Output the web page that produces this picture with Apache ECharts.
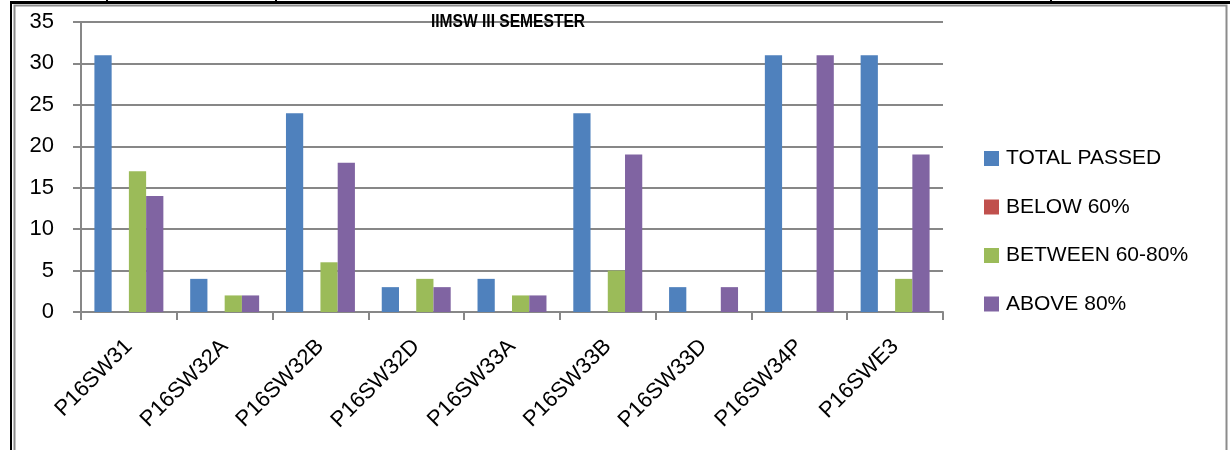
<!DOCTYPE html>
<html>
<head>
<meta charset="utf-8">
<script src="https://cdn.jsdelivr.net/npm/echarts@6/dist/echarts.min.js"></script>
<style>
html,body{margin:0;padding:0;background:#fff;}
#chart{width:1232px;height:450px;}
</style>
</head>
<body>
<div id="chart"></div>
<script>
const categories = ['P16SW31','P16SW32A','P16SW32B','P16SW32D','P16SW33A','P16SW33B','P16SW33D','P16SW34P','P16SWE3'];
const totalPassed = [31, 4, 24, 3, 4, 24, 3, 31, 31];
const below60 = [0, 0, 0, 0, 0, 0, 0, 0, 0];
const between6080 = [17, 2, 6, 4, 2, 5, 0, 0, 4];
const above80 = [14, 2, 18, 3, 2, 19, 3, 31, 19];
const seriesNames = ['TOTAL PASSED', 'BELOW 60%', 'BETWEEN 60-80%', 'ABOVE 80%'];
const yTicks = [0, 5, 10, 15, 20, 25, 30, 35];
const chartTitle = 'IIMSW III SEMESTER';

const colors = ['#4F81BD', '#C0504D', '#9BBB59', '#8064A2'];
const font = '"Liberation Sans", Arial, sans-serif';
const chart = echarts.init(document.getElementById('chart'));
const dataSets = [totalPassed, below60, between6080, above80];

chart.setOption({
  animation: false,
  color: colors,
  legend: {
    orient: 'vertical',
    left: 984, top: 148, padding: 0,
    itemWidth: 15, itemHeight: 15, itemGap: 27.5,
    icon: 'rect',
    textStyle: { fontFamily: font, fontSize: 21, color: '#000', padding: [0, 0, 0, 2] },
    data: seriesNames
  },
  grid: { left: 81, right: 289, top: 22, bottom: 138, containLabel: false },
  xAxis: {
    type: 'category',
    data: categories,
    axisLine: { lineStyle: { color: '#878787', width: 2 } },
    axisTick: { show: true, length: 8, lineStyle: { color: '#878787', width: 2 } },
    axisLabel: { rotate: 45, margin: 31, fontFamily: font, fontSize: 22, color: '#000' }
  },
  yAxis: {
    type: 'value',
    min: 0, max: 35, interval: 5,
    axisLine: { show: true, lineStyle: { color: '#878787', width: 2 } },
    axisTick: { show: true, length: 8, lineStyle: { color: '#878787', width: 2 } },
    splitLine: { lineStyle: { color: '#878787', width: 2 } },
    axisLabel: { margin: 27, fontFamily: font, fontSize: 22, color: '#000',
      formatter: v => yTicks.includes(v) ? String(v) : '' }
  },
  series: seriesNames.map((n, i) => ({
    name: n, type: 'bar', data: dataSets[i],
    barGap: '0%', barCategoryGap: '28%',
    itemStyle: { color: colors[i] }
  })),
  graphic: [
    { type: 'text', silent: true, z: 50, x: 508, y: 22, scaleX: 0.82, originX: 0, originY: 0,
      style: { text: chartTitle, x: 0, y: 0, align: 'center', verticalAlign: 'middle',
        font: 'bold 19px "Liberation Sans", Arial, sans-serif', fill: '#000' } },
    { type: 'rect', silent: true, z: 100, shape: { x: 14.5, y: 5.5, width: 1212, height: 460 }, style: { fill: 'none', stroke: '#8c8c8c', lineWidth: 2 } },
    { type: 'rect', silent: true, z: 101, shape: { x: 10, y: 1, width: 1220, height: 3 }, style: { fill: '#000' } },
    { type: 'rect', silent: true, z: 101, shape: { x: 10, y: 1, width: 2, height: 449 }, style: { fill: '#000' } },
    { type: 'rect', silent: true, z: 101, shape: { x: 106, y: 0, width: 2, height: 4 }, style: { fill: '#000' } },
    { type: 'rect', silent: true, z: 101, shape: { x: 275, y: 0, width: 2, height: 4 }, style: { fill: '#000' } },
    { type: 'rect', silent: true, z: 101, shape: { x: 1050, y: 0, width: 2, height: 4 }, style: { fill: '#000' } }
  ]
});
</script>
</body>
</html>
